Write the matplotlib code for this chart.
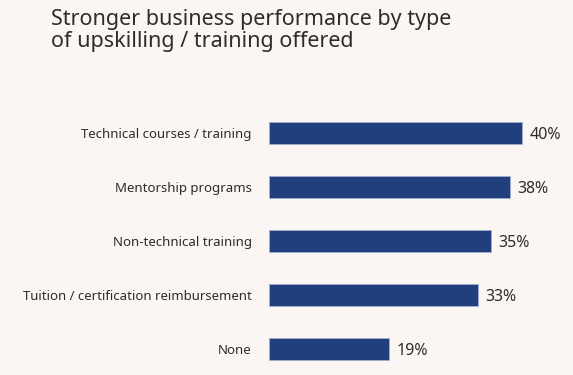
import matplotlib.pyplot as plt
import numpy as np

categories = ["Technical courses / training", "Mentorship programs",
              "Non-technical training", "Tuition / certification reimbursement", "None"]
values = [40, 38, 35, 33, 19]

bg = "#fbf6f3"
bar_color = "#213f7c"
text_color = "#2d2d2d"

plt.rcParams['font.family'] = ['Noto Sans', 'DejaVu Sans']

fig = plt.figure(figsize=(5.73, 3.75), dpi=100)
fig.patch.set_facecolor(bg)

ax = fig.add_axes([0.4695, -0.003, 0.5305, 0.72])
ax.set_facecolor(bg)

y = np.arange(len(categories))
ax.barh(y, values, height=0.41, color=bar_color, edgecolor="#9fb0cc", linewidth=0.6)
ax.set_xlim(0, 48)
ax.set_ylim(len(categories) - 0.5, -0.5)

ax.set_yticks(y)
ax.set_yticklabels(categories, fontsize=9.5, color=text_color)
ax.tick_params(axis='y', length=0, pad=12.5)
ax.set_xticks([])
for s in ax.spines.values():
    s.set_visible(False)

for yi, v in zip(y, values):
    ax.text(v + 1.2, yi + 0.03, f"{v}%", va='center', ha='left', fontsize=11.5,
            color=text_color, fontweight='light')

fig.text(0.089, 0.975, "Stronger business performance by type\nof upskilling / training offered",
         ha='left', va='top', fontsize=15.5, color=text_color, linespacing=1.05)

fig.savefig("out.png", dpi=100, facecolor=bg)
